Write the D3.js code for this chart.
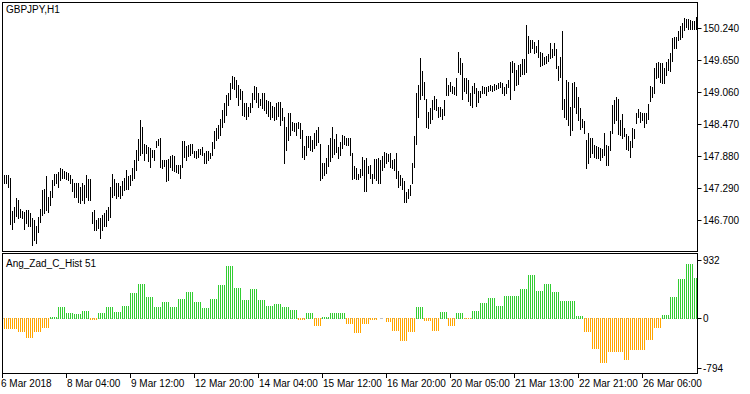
<!DOCTYPE html>
<html>
<head>
<meta charset="utf-8">
<script src="https://cdn.jsdelivr.net/npm/d3@7"></script>
<style>
  html, body { margin: 0; padding: 0; background: #fff; }
  svg { display: block; }
  text { font-family: "Liberation Sans", Arial, sans-serif; font-size: 10px; fill: #000; }
</style>
</head>
<body>
<div id="chart"></div>
<script>
// GBPJPY H1 bars (high / low), one entry per bar from the left edge
var highs = [
  147.53,147.53,147.53,147.47,146.87,146.94,147.10,147.07,146.91,146.87,
  146.85,146.88,146.88,146.82,146.73,146.70,146.59,146.76,146.90,147.26,
  147.28,147.51,147.13,147.24,147.44,147.55,147.55,147.59,147.65,147.64,
  147.61,147.59,147.57,147.53,147.45,147.39,147.38,147.39,147.31,147.38,
  147.35,147.53,147.45,147.45,146.85,146.88,146.70,146.73,146.73,146.79,
  146.83,146.88,146.94,147.30,147.55,147.45,147.38,147.38,147.32,147.41,
  147.47,147.62,147.51,147.53,147.65,147.81,147.99,148.19,148.54,148.42,
  148.10,148.08,148.05,148.02,147.99,147.99,148.16,148.19,148.21,147.80,
  147.81,147.81,147.82,147.88,147.90,147.88,147.71,147.71,147.71,148.16,
  148.16,148.06,148.08,148.11,148.10,147.98,147.98,148.00,148.00,148.04,
  147.94,147.98,147.98,147.94,148.14,148.35,148.39,148.45,148.57,148.73,
  148.85,149.00,149.04,149.22,149.35,149.33,149.28,149.19,149.11,149.07,
  148.86,148.86,148.79,148.85,149.04,149.17,149.16,149.04,148.94,149.04,
  149.05,148.91,148.90,148.88,148.80,148.79,148.86,148.88,148.88,148.76,
  148.60,148.42,148.68,148.68,148.51,148.49,148.48,148.51,148.48,148.36,
  148.06,148.25,148.25,148.25,148.18,148.31,148.36,148.41,148.10,147.75,
  147.76,147.84,148.08,148.22,148.41,148.19,148.29,148.05,148.13,148.27,
  148.25,148.22,148.21,148.21,147.93,147.70,147.65,147.55,147.64,147.87,
  147.81,147.84,147.70,147.71,147.55,147.82,147.82,147.84,147.81,147.88,
  147.96,147.93,147.92,147.93,147.81,147.82,147.93,147.61,147.53,147.47,
  147.41,147.22,147.27,147.35,147.76,148.24,149.05,149.19,149.68,149.44,
  149.25,148.94,148.70,148.76,148.91,148.99,148.93,148.79,148.78,148.74,
  148.91,149.31,149.19,149.25,149.17,149.16,149.31,149.80,149.68,149.59,
  149.31,149.31,149.29,149.04,149.17,149.23,149.13,149.07,149.08,149.17,
  149.16,149.15,149.17,149.19,149.17,149.21,149.19,149.23,149.25,149.23,
  149.15,149.21,149.29,149.62,149.64,149.59,149.47,149.56,149.58,149.66,
  149.66,150.30,150.09,150.01,150.01,149.99,149.91,150.02,149.80,149.78,
  149.71,149.72,149.76,149.97,149.85,149.97,149.85,149.54,149.71,150.19,
  148.94,149.28,149.25,148.79,149.23,149.25,149.15,148.97,148.76,148.57,
  148.53,148.18,148.31,148.21,148.21,148.08,148.06,148.04,148.02,148.00,
  148.31,148.08,148.06,148.35,148.82,148.91,148.97,148.94,148.54,148.65,
  148.39,148.29,148.25,148.16,148.39,148.37,148.68,148.74,148.70,148.67,
  148.68,148.68,148.84,149.17,149.16,149.51,149.60,149.62,149.60,149.59,
  149.51,149.62,149.66,149.78,150.05,150.07,150.07,150.19,150.28,150.33,
  150.42,150.40,150.40,150.39,150.37,150.36,150.45
];
var lows = [
  147.38,147.39,147.31,146.63,146.53,146.67,146.77,146.73,146.76,146.73,
  146.53,146.65,146.59,146.59,146.23,146.33,146.28,146.48,146.67,146.79,
  146.82,146.88,146.85,146.98,147.13,147.35,147.38,147.31,147.44,147.47,
  147.47,147.45,147.44,147.38,147.24,147.13,147.13,147.04,147.02,147.07,
  147.02,147.13,147.07,147.07,146.64,146.52,146.52,146.55,146.37,146.52,
  146.59,146.59,146.70,146.76,147.13,147.16,147.10,147.14,147.10,147.16,
  147.26,147.28,147.28,147.35,147.44,147.47,147.62,147.81,147.90,147.93,
  147.81,147.93,147.78,147.68,147.87,147.81,148.04,148.08,147.67,147.65,
  147.70,147.41,147.44,147.68,147.62,147.61,147.59,147.56,147.47,147.68,
  147.87,147.81,147.88,147.90,147.94,147.87,147.84,147.86,147.92,147.90,
  147.76,147.76,147.81,147.84,147.90,148.02,148.18,148.22,148.27,148.42,
  148.51,148.64,148.82,148.93,149.13,149.12,148.97,148.82,148.93,148.64,
  148.61,148.57,148.61,148.70,148.79,148.93,148.88,148.79,148.82,148.76,
  148.73,148.67,148.62,148.56,148.59,148.54,148.57,148.61,148.45,148.54,
  147.75,147.99,148.18,148.27,148.36,148.35,148.27,148.39,148.21,147.87,
  147.82,147.90,148.04,147.99,147.98,148.02,148.08,148.13,147.44,147.47,
  147.53,147.57,147.70,147.78,147.87,147.92,147.96,147.84,147.90,148.02,
  148.11,148.08,148.08,147.90,147.45,147.47,147.45,147.45,147.50,147.53,
  147.24,147.24,147.56,147.47,147.39,147.47,147.44,147.38,147.38,147.62,
  147.68,147.76,147.78,147.68,147.65,147.62,147.47,147.31,147.35,147.28,
  147.04,147.04,147.10,147.16,147.38,147.67,148.11,148.60,148.94,149.00,
  148.94,148.42,148.39,148.48,148.57,148.74,148.73,148.60,148.62,148.57,
  148.64,149.00,149.00,149.07,149.05,149.02,149.00,149.43,149.40,148.93,
  149.08,149.05,148.90,148.82,148.79,149.04,148.80,148.88,148.97,149.04,
  149.05,149.00,149.08,149.10,149.08,149.10,149.11,149.13,149.15,149.05,
  149.00,149.05,149.15,148.93,149.43,149.10,149.19,149.21,149.35,149.40,
  149.39,149.42,149.77,149.80,149.87,149.77,149.80,149.71,149.54,149.56,
  149.58,149.59,149.64,149.68,149.71,149.74,149.50,149.29,149.34,148.74,
  148.60,148.57,148.45,148.27,148.36,148.79,148.67,148.54,148.37,148.42,
  148.30,147.65,147.75,147.87,147.93,147.87,147.84,147.84,147.80,147.87,
  147.90,147.71,147.71,147.99,148.31,148.48,148.54,148.29,148.27,148.21,
  148.25,148.00,147.99,147.87,148.04,148.21,148.48,148.60,148.51,148.54,
  148.42,148.48,148.57,148.90,148.96,149.05,149.31,149.34,149.25,149.22,
  149.23,149.37,149.47,149.45,149.64,149.88,149.88,150.02,150.03,150.08,
  150.20,150.25,150.23,150.23,150.23,150.22,150.22
];
// Ang_Zad_C_Hist 51, one value per bar (steps of the H4 calculation)
var hist = [
  -171,-171,-171,
  -171,-171,-171,-171,  -213,-213,-213,-213,  -309,-309,-309,-309,  -224,-224,-224,-224,
  -149,-149,-149,-149,  16,16,16,16,  187,187,187,187,  91,91,91,91,
  75,75,75,75,  123,123,123,123,  -27,-27,-27,-27,  80,80,80,80,
  187,187,187,187,  107,107,107,107,  203,203,203,203,  400,400,400,400,
  555,555,555,555,  336,336,336,336,  187,187,187,187,  267,267,267,267,
  187,187,187,187,  315,315,315,315,  427,427,427,427,  267,267,267,267,
  171,171,171,171,  315,315,315,315,  539,539,539,539,  843,843,843,843,
  491,491,491,491,  293,293,293,293,  469,469,469,469,  293,293,293,293,
  197,197,197,197,  229,229,229,229,  187,187,187,187,  133,133,133,133,
  -21,-21,-21,-21,  91,91,91,91,  -123,-123,-123,-123,  21,21,21,21,
  91,91,91,91,  91,91,91,91,  -85,-85,-85,-85,  -229,-229,-229,-229,
  -85,-85,-85,-85,  -27,-27,-27,-27,  0,0,0,0,  -53,-53,-53,
  -203,-203,-203,-203,  -357,-357,-357,-357,  -213,-213,-213,-213,  181,181,181,181,
  -37,-37,-37,-37,  -203,-203,-203,-203,  101,101,101,101,  -123,-123,-123,-123,
  85,85,85,85,  -16,-16,-16,-16,  117,117,117,117,  240,240,240,240,
  325,325,325,325,  197,197,197,197,  357,357,357,357,  357,357,357,357,
  469,469,469,469,  693,693,693,693,  437,437,437,437,  549,549,549,549,
  421,421,421,421,  277,277,277,277,  277,277,277,277,  37,37,37,37,
  -213,-213,-213,-213,  -491,-491,-491,-491,  -709,-709,-709,-709,  -533,-533,-533,-533,
  -533,-533,-533,-533,  -667,-667,-667,
  -507,-507,-507,-507,  -507,-507,-507,-507,  -347,-347,-347,-347,  -149,-149,-149,-149,
  53,53,53,53,  341,341,341,341,  629,629,629,629,  869,869,869,869,
  651,651
];

var priceTicks = [146.700, 147.290, 147.880, 148.470, 149.060, 149.650, 150.240];
var histTicks = [932, 0, -794];
var timeTickBars = [0, 32, 64, 96, 128, 160, 192, 224, 256, 288, 320];
var timeTickLabels = ["6 Mar 2018", "8 Mar 04:00", "9 Mar 12:00", "12 Mar 20:00", "14 Mar 04:00",
  "15 Mar 12:00", "16 Mar 20:00", "20 Mar 05:00", "21 Mar 13:00", "22 Mar 21:00", "26 Mar 06:00"];

var W = 750, H = 394;
var left = 2, right = 697;
var mainTop = 2, mainBottom = 251;
var subTop = 253, subBottom = 373;

var svg = d3.select("#chart").append("svg")
    .attr("width", W)
    .attr("height", H);

svg.append("rect").attr("width", W).attr("height", H).attr("fill", "#fff");

// bar index 0 sits under the left border, data starts at index 1
var x = d3.scaleLinear().domain([0, 347]).range([2, 696]);
var y = d3.scaleLinear().domain([146.700, 150.240]).range([220, 28]);
var yh = d3.scaleLinear().domain([-794, 932]).range([368, 260]);

var bars = highs.map(function (h, i) {
    return { i: i + 1, high: h, low: lows[i], hist: hist[i] };
});

svg.append("clipPath").attr("id", "clipMain")
    .append("rect").attr("x", left + 1).attr("y", mainTop + 1)
    .attr("width", right - left - 1).attr("height", mainBottom - mainTop - 1);

svg.append("clipPath").attr("id", "clipSub")
    .append("rect").attr("x", left + 1).attr("y", subTop + 1)
    .attr("width", right - left - 1).attr("height", subBottom - subTop - 1);

// price bars
svg.append("g").attr("clip-path", "url(#clipMain)")
    .selectAll("line")
    .data(bars)
    .enter()
    .append("line")
    .attr("x1", function (d) { return Math.round(x(d.i)) + 0.5; })
    .attr("x2", function (d) { return Math.round(x(d.i)) + 0.5; })
    .attr("y1", function (d) { return Math.round(y(d.high)); })
    .attr("y2", function (d) { return Math.round(y(d.low)) + 1; })
    .attr("stroke", "#000")
    .attr("stroke-width", 1);

// zero level of the histogram
var sub = svg.append("g").attr("clip-path", "url(#clipSub)");
sub.append("line")
    .attr("x1", left).attr("x2", right)
    .attr("y1", Math.round(yh(0)) + 0.5).attr("y2", Math.round(yh(0)) + 0.5)
    .attr("stroke", "#c0c0c0")
    .attr("stroke-dasharray", "3,3");

sub.selectAll("line.hist")
    .data(bars.filter(function (d) { return d.hist !== 0; }))
    .enter()
    .append("line")
    .attr("class", "hist")
    .attr("x1", function (d) { return Math.round(x(d.i)) + 0.5; })
    .attr("x2", function (d) { return Math.round(x(d.i)) + 0.5; })
    .attr("y1", function (d) { return Math.round(yh(0)) + (d.hist > 0 ? 1 : 0); })
    .attr("y2", function (d) { return Math.round(yh(d.hist)); })
    .attr("stroke", function (d) { return d.hist > 0 ? "#32cd32" : "#ffa500"; })
    .attr("stroke-width", 1);

// frames
svg.append("rect")
    .attr("x", left + 0.5).attr("y", mainTop + 0.5)
    .attr("width", right - left).attr("height", mainBottom - mainTop)
    .attr("fill", "none").attr("stroke", "#000");
svg.append("rect")
    .attr("x", left + 0.5).attr("y", subTop + 0.5)
    .attr("width", right - left).attr("height", subBottom - subTop)
    .attr("fill", "none").attr("stroke", "#000");

// right price axis
var pAxis = svg.append("g");
pAxis.selectAll("line")
    .data(priceTicks)
    .enter()
    .append("line")
    .attr("x1", right + 0.5).attr("x2", right + 4.5)
    .attr("y1", function (d) { return Math.round(y(d)) + 0.5; })
    .attr("y2", function (d) { return Math.round(y(d)) + 0.5; })
    .attr("stroke", "#000");
pAxis.selectAll("text")
    .data(priceTicks)
    .enter()
    .append("text")
    .attr("x", right + 6)
    .attr("y", function (d) { return Math.round(y(d)) + 4; })
    .text(function (d) { return d3.format(".3f")(d); });

var hAxis = svg.append("g");
hAxis.selectAll("line")
    .data(histTicks)
    .enter()
    .append("line")
    .attr("x1", right + 0.5).attr("x2", right + 4.5)
    .attr("y1", function (d) { return Math.round(yh(d)) + 0.5; })
    .attr("y2", function (d) { return Math.round(yh(d)) + 0.5; })
    .attr("stroke", "#000");
hAxis.selectAll("text")
    .data(histTicks)
    .enter()
    .append("text")
    .attr("x", right + 6)
    .attr("y", function (d) { return Math.round(yh(d)) + 4; })
    .text(function (d) { return d; });

// time axis
var tAxis = svg.append("g");
tAxis.selectAll("line")
    .data(timeTickBars)
    .enter()
    .append("line")
    .attr("x1", function (d) { return Math.round(x(d)) + 0.5; })
    .attr("x2", function (d) { return Math.round(x(d)) + 0.5; })
    .attr("y1", subBottom).attr("y2", subBottom + 5)
    .attr("stroke", "#000");
tAxis.selectAll("text")
    .data(timeTickBars)
    .enter()
    .append("text")
    .attr("x", function (d, i) { return i === 0 ? 1 : Math.round(x(d)) + 1; })
    .attr("y", 387)
    .text(function (d, i) { return timeTickLabels[i]; });

// titles
svg.append("text").attr("x", 6).attr("y", 13).text("GBPJPY,H1");
svg.append("text").attr("x", 6).attr("y", 267).text("Ang_Zad_C_Hist 51");
</script>
</body>
</html>
